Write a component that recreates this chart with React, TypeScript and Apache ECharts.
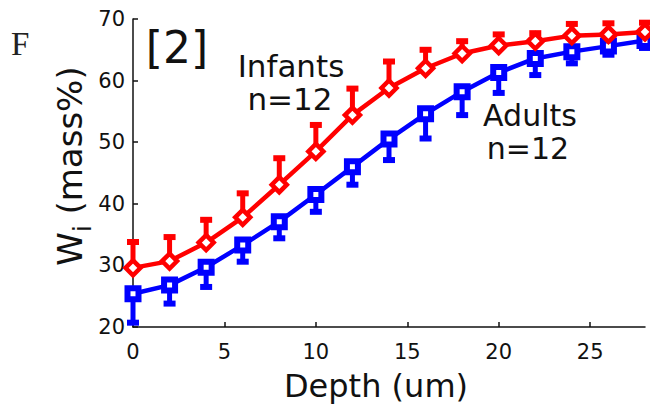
import React, { useEffect, useRef } from "react";
import * as echarts from "echarts";

const depth = [0, 2, 4, 6, 8, 10, 12, 14, 16, 18, 20, 22, 24, 26, 28];
const infants = [29.6, 30.7, 33.7, 37.8, 43.1, 48.5, 54.4, 58.8, 62.0, 64.4, 65.7, 66.4, 67.3, 67.5, 67.9];
const infantsErr = [4.2, 3.9, 3.7, 3.9, 4.3, 4.3, 4.3, 4.3, 3.0, 2.0, 1.8, 1.3, 1.9, 1.8, 1.5];
const adults = [25.4, 26.8, 29.7, 33.3, 37.1, 41.5, 46.0, 50.5, 54.6, 58.2, 61.3, 63.6, 64.7, 65.6, 66.5];
const adultsErr = [4.7, 3.0, 3.2, 2.7, 2.7, 2.8, 2.9, 3.4, 4.0, 3.8, 3.3, 2.7, 1.9, 1.4, 1.2];
const yTicks = [20, 30, 40, 50, 60, 70];
const xTicks = [0, 5, 10, 15, 20, 25];

const RED = "#ff0000";
const BLUE = "#0000ff";
const FONT = "DejaVu Sans";

function errRender(color: string, dir: number) {
  return (params: any, api: any) => {
    const x = api.value(0);
    const y = api.value(1);
    const e = api.value(2);
    const p0 = api.coord([x, y]);
    const p1 = api.coord([x, y + dir * e]);
    return {
      type: "group",
      children: [
        { type: "line", shape: { x1: p0[0], y1: p0[1], x2: p1[0], y2: p1[1] }, style: { stroke: color, lineWidth: 5 } },
        { type: "line", shape: { x1: p1[0] - 6, y1: p1[1], x2: p1[0] + 6, y2: p1[1] }, style: { stroke: color, lineWidth: 6 } },
      ],
    };
  };
}

export default function App() {
  const ref = useRef<HTMLDivElement>(null);
  useEffect(() => {
    if (!ref.current) return;
    const chart = echarts.init(ref.current, undefined, { renderer: "svg" });
    const infData = depth.map((d, i) => [d, infants[i], infantsErr[i]]);
    const adData = depth.map((d, i) => [d, adults[i], adultsErr[i]]);
    chart.setOption({
      animation: false,
      backgroundColor: "#ffffff",
      grid: { left: 133, right: 5, top: 19, bottom: 77 },
      xAxis: {
        type: "value",
        min: 0,
        max: 28,
        interval: 5,
        axisLine: { show: true, lineStyle: { color: "#111", width: 1.5 } },
        axisTick: { show: true, inside: true, length: 5, lineStyle: { color: "#111", width: 1.5 } },
        axisLabel: {
          fontFamily: FONT,
          fontSize: 21,
          color: "#111",
          margin: 14,
          showMaxLabel: false,
          formatter: (v: number) => (xTicks.includes(v) ? String(v) : ""),
        },
        splitLine: { show: false },
      },
      yAxis: {
        type: "value",
        min: 20,
        max: 70,
        interval: 10,
        axisLine: { show: true, lineStyle: { color: "#111", width: 1.5 } },
        axisTick: { show: true, inside: true, length: 5, lineStyle: { color: "#111", width: 1.5 } },
        axisLabel: {
          fontFamily: FONT,
          fontSize: 21,
          color: "#111",
          margin: 8,
          formatter: (v: number) => (yTicks.includes(v) ? String(v) : ""),
        },
        splitLine: { show: false },
      },
      series: [
        {
          type: "custom",
          name: "infantsErr",
          data: infData,
          renderItem: errRender(RED, 1),
          clip: false,
          z: 1,
          encode: { x: 0, y: 1 },
        },
        {
          type: "custom",
          name: "adultsErr",
          data: adData,
          renderItem: errRender(BLUE, -1),
          clip: false,
          z: 1,
          encode: { x: 0, y: 1 },
        },
        {
          type: "line",
          name: "Adults",
          data: depth.map((d, i) => [d, adults[i]]),
          lineStyle: { color: BLUE, width: 4.5 },
          symbol: "rect",
          symbolSize: 11,
          itemStyle: { color: "#ffffff", borderColor: BLUE, borderWidth: 6 },
          z: 3,
        },
        {
          type: "line",
          name: "Infants",
          data: depth.map((d, i) => [d, infants[i]]),
          lineStyle: { color: RED, width: 4.5 },
          symbol: "diamond",
          symbolSize: 15,
          itemStyle: { color: "#ffffff", borderColor: RED, borderWidth: 4.5 },
          z: 4,
        },
      ],
      graphic: [
        {
          type: "text",
          left: 11,
          top: 27,
          style: { text: "F", font: "33px 'Liberation Serif'", fill: "#222" },
        },
        {
          type: "text",
          x: 177,
          y: 47,
          style: { text: "[2]", font: `44px '${FONT}'`, fill: "#111", textAlign: "center", textVerticalAlign: "middle" },
        },
        {
          type: "text",
          x: 291,
          y: 66,
          style: { text: "Infants", font: `31px '${FONT}'`, fill: "#111", textAlign: "center", textVerticalAlign: "middle" },
        },
        {
          type: "text",
          x: 290,
          y: 99,
          style: { text: "n=12", font: `31px '${FONT}'`, fill: "#111", textAlign: "center", textVerticalAlign: "middle" },
        },
        {
          type: "text",
          x: 530,
          y: 115,
          style: { text: "Adults", font: `30px '${FONT}'`, fill: "#111", textAlign: "center", textVerticalAlign: "middle" },
        },
        {
          type: "text",
          x: 528,
          y: 148,
          style: { text: "n=12", font: `30px '${FONT}'`, fill: "#111", textAlign: "center", textVerticalAlign: "middle" },
        },
        {
          type: "text",
          x: 376,
          y: 386,
          style: { text: "Depth (um)", font: `32px '${FONT}'`, fill: "#111", textAlign: "center", textVerticalAlign: "middle" },
        },
        {
          type: "text",
          x: 70,
          y: 166,
          rotation: Math.PI / 2,
          style: {
            text: "{w|W}{s|i}{w| (mass%)}",
            textAlign: "center",
            textVerticalAlign: "middle",
            fill: "#111",
            rich: {
              w: { fontFamily: FONT, fontSize: 34, fill: "#111", verticalAlign: "bottom" },
              s: { fontFamily: FONT, fontSize: 24, fill: "#111", verticalAlign: "bottom", padding: [0, 0, -8, 0] },
            },
          },
        },
      ],
    });
    return () => chart.dispose();
  }, []);
  return <div ref={ref} style={{ position: "fixed", left: 0, top: 0, width: 650, height: 404 }} />;
}
